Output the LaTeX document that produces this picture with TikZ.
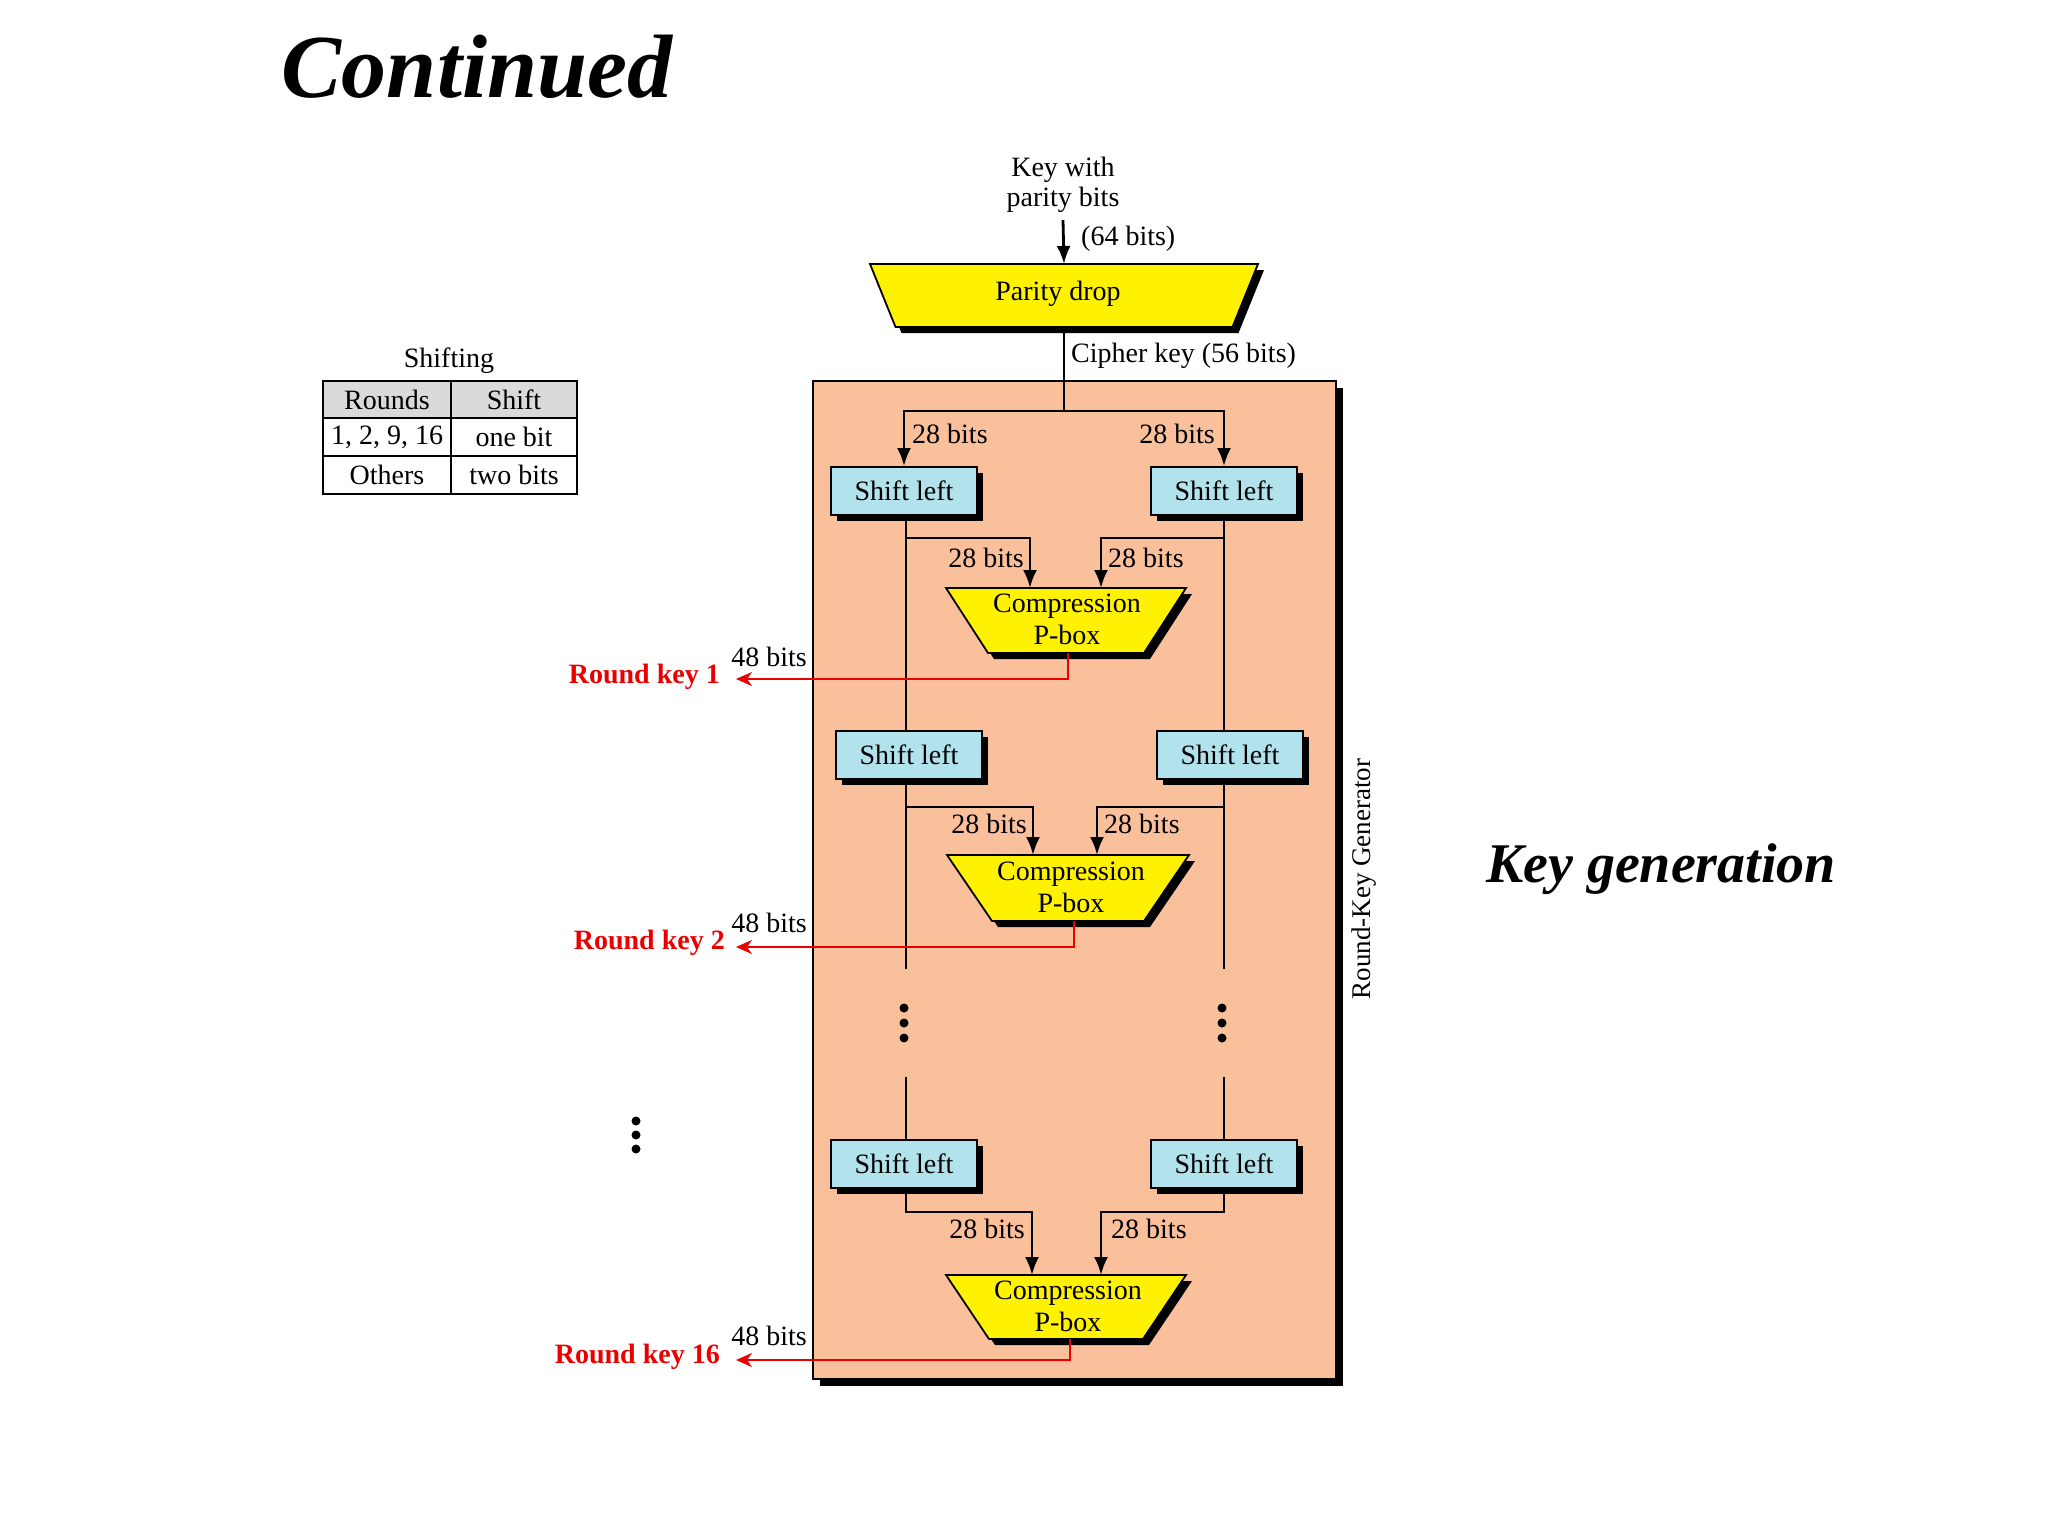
\documentclass[tikz,border=0pt]{standalone}
\usepackage{fontspec}
\setmainfont{Liberation Serif}
\usetikzlibrary{arrows.meta,shadows}
\definecolor{salmon}{RGB}{250,191,155}
\definecolor{skyb}{RGB}{178,226,236}
\definecolor{hdr}{RGB}{218,218,218}
\definecolor{rkred}{RGB}{235,0,0}
% name, cx, cy, half top width, half bottom width, half height
\newcommand{\trapz}[6]{%
  \fill[black] ({#2-#4+6},{#3-#6+6}) -- ({#2+#4+6},{#3-#6+6}) -- ({#2+#5+6},{#3+#6+6}) -- ({#2-#5+6},{#3+#6+6}) -- cycle;
  \draw[line width=1.8pt, fill=yellow] ({#2-#4},{#3-#6}) -- ({#2+#4},{#3-#6}) -- ({#2+#5},{#3+#6}) -- ({#2-#5},{#3+#6}) -- cycle;
  \coordinate (#1) at (#2,#3);
  \coordinate (#1-n) at (#2,{#3-#6});
  \coordinate (#1-s) at (#2,{#3+#6});
}
\begin{document}
\begin{tikzpicture}[x=1pt,y=-1pt,
  every node/.style={font=\fontsize{28}{32}\selectfont, inner sep=0pt},
  blk/.style={general shadow={fill=black, shadow xshift=6pt, shadow yshift=-6pt}},
  shiftbox/.style={rectangle, draw=black, line width=1.8pt, fill=skyb, minimum width=146pt, minimum height=48pt, blk},
  conn/.style={line width=2.8pt},
  arr/.style={conn, -{Latex[length=18pt,width=14pt]}},
  redarr/.style={draw=rkred, line width=2pt, -{Stealth[length=16pt,width=14pt,inset=5pt]}},
  rk/.style={font=\fontsize{28}{32}\selectfont\bfseries, text=rkred, anchor=base east},
  cell/.style={rectangle, draw=black, line width=1.8pt, minimum height=37.7pt}
]
\useasboundingbox (0,0) rectangle (2048,1536);
\fill[white] (0,0) rectangle (2048,1536);

% titles
\node[font=\fontsize{90}{100}\selectfont\bfseries\itshape, anchor=base] (title) at (477,98) {Continued};
\node[font=\fontsize{56}{60}\selectfont\bfseries\itshape, anchor=base] (kg) at (1661,882) {Key generation};

% shifting table
\node[anchor=base] (shtitle) at (449,367) {Shifting};
\node[cell, fill=hdr, minimum width=128pt] (c11) at (387,399.5) {Rounds};
\node[cell, fill=hdr, minimum width=126pt] (c12) at (514,399.5) {Shift};
\node[cell, minimum width=128pt] (c21) at (387,437.2) {1, 2, 9, 16};
\node[cell, minimum width=126pt] (c22) at (514,437.2) {one bit};
\node[cell, minimum width=128pt] (c31) at (387,474.9) {Others};
\node[cell, minimum width=126pt] (c32) at (514,474.9) {two bits};

% generator box
\node[rectangle, draw=black, line width=1.8pt, fill=salmon, minimum width=523pt, minimum height=998pt, anchor=north west, general shadow={fill=black, shadow xshift=7pt, shadow yshift=-7pt}] (gen) at (812,380) {};
\node[rotate=90, font=\fontsize{27}{30}\selectfont] (rkg) at (1364,879) {Round-Key Generator};

% input
\node[anchor=base] (key1) at (1063,176) {Key with};
\node[anchor=base] (key2) at (1063,206) {parity bits};
\node[anchor=base west] (b64) at (1081,245) {(64 bits)};
\trapz{pd}{1064}{295.5}{194}{168.5}{31.5}
\node[anchor=base] (pdt) at (1058,300) {Parity drop};
\draw[arr] ([yshift=-14pt]key2.base) -- (pd-n);
\node[anchor=base west] (ck) at (1071,362) {Cipher key (56 bits)};

% shift boxes
\node[shiftbox] (sl1L) at (904,491) {Shift left};
\node[shiftbox] (sl1R) at (1224,491) {Shift left};
\node[shiftbox] (sl2L) at (909,755) {Shift left};
\node[shiftbox] (sl2R) at (1230,755) {Shift left};
\node[shiftbox] (sl3L) at (904,1164) {Shift left};
\node[shiftbox] (sl3R) at (1224,1164) {Shift left};

% P-boxes
\trapz{p1}{1066}{620.5}{120}{78}{32.5}
\node[align=center] (p1t) at (1067,619) {Compression\\P-box};
\trapz{p2}{1068}{888}{121}{76}{33}
\node[align=center] (p2t) at (1071,887) {Compression\\P-box};
\trapz{p3}{1066}{1307}{120}{77}{32}
\node[align=center] (p3t) at (1068,1306) {Compression\\P-box};

% split
\coordinate (split) at (1064,411);
\draw[conn] (pd-s) -- (split);
\draw[arr] (split) -| (sl1L.north);
\draw[arr] (split) -| (sl1R.north);
\node[anchor=base west] at (912,443) {28 bits};
\node[anchor=base east] at (1215,443) {28 bits};

% columns
\coordinate (gapL1) at (906,969);
\coordinate (gapL2) at (906,1077);
\coordinate (gapR1) at (1224,969);
\coordinate (gapR2) at (1224,1077);
\draw[conn] (sl1L.south -| gapL1) -- (gapL1 |- sl2L.north);
\draw[conn] (gapL1 |- sl2L.south) -- (gapL1);
\draw[conn] (gapL2) -- (gapL2 |- sl3L.north);
\draw[conn] (sl1R.south -| gapR1) -- (gapR1 |- sl2R.north);
\draw[conn] (gapR1 |- sl2R.south) -- (gapR1);
\draw[conn] (gapR2) -- (gapR2 |- sl3R.north);

% round 1 branches
\coordinate (b1L) at (1030,538);
\coordinate (b1R) at (1101,538);
\draw[arr] (gapL1 |- b1L) -- (b1L) -- (b1L |- p1-n);
\draw[arr] (gapR1 |- b1R) -- (b1R) -- (b1R |- p1-n);
\node[anchor=base east] at (1024,567) {28 bits};
\node[anchor=base west] at (1108,567) {28 bits};

% round 2 branches
\coordinate (b2L) at (1033,807);
\coordinate (b2R) at (1097,807);
\draw[arr] (gapL1 |- b2L) -- (b2L) -- (b2L |- p2-n);
\draw[arr] (gapR1 |- b2R) -- (b2R) -- (b2R |- p2-n);
\node[anchor=base east] at (1027,833) {28 bits};
\node[anchor=base west] at (1104,833) {28 bits};

% round 16 branches
\coordinate (b3L) at (1032,1212);
\coordinate (b3R) at (1101,1212);
\draw[arr] (sl3L.south -| gapL2) |- (b3L) -- (b3L |- p3-n);
\draw[arr] (sl3R.south -| gapR2) |- (b3R) -- (b3R |- p3-n);
\node[anchor=base east] at (1025,1238) {28 bits};
\node[anchor=base west] at (1111,1238) {28 bits};

% dots
\foreach \yy in {1008,1023,1038} {
  \fill (904,\yy) circle (4.5pt);
  \fill (1222,\yy) circle (4.5pt);
}
\foreach \yy in {1121,1135,1149} \fill (636,\yy) circle (4.5pt);

% round keys
\coordinate (k1) at (736,679);
\coordinate (k2) at (736,947);
\coordinate (k3) at (736,1360);
\draw[redarr] ([xshift=2pt]p1-s) |- (k1);
\draw[redarr] ([xshift=6pt]p2-s) |- (k2);
\draw[redarr] ([xshift=4pt]p3-s) |- (k3);
\node[anchor=base east] at (807,666) {48 bits};
\node[anchor=base east] at (807,932) {48 bits};
\node[anchor=base east] at (807,1345) {48 bits};
\node[rk] (rk1) at (720,683) {Round key 1};
\node[rk] (rk2) at (725,949) {Round key 2};
\node[rk] (rk16) at (720,1363) {Round key 16};
\end{tikzpicture}
\end{document}
